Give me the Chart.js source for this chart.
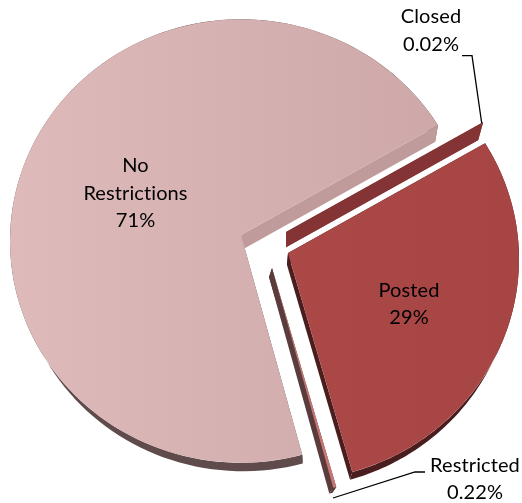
<!DOCTYPE html>
<html>
<head>
<meta charset="utf-8">
<style>html,body{margin:0;padding:0;background:#fff}canvas{display:block}#w{width:522px;height:503px;position:relative}</style>
<script src="https://cdn.jsdelivr.net/npm/chart.js@4"></script>
</head>
<body>
<div id="w"><canvas id="c" width="522" height="503"></canvas></div>
<script>
const categories = ['Closed', 'Posted', 'Restricted', 'No Restrictions'];
const values = [0.02, 29.24, 0.22, 70.52];
const percentLabels = ['0.02%', '29%', '0.22%', '71%'];

// Look of each slice (same order as categories)
const looks = [
  {shift:[45,-3], base:[0,15,.975], top:['#AB4746','#AB4746'], outer:'#843434', start:'#843434', end:'#843434'},
  {shift:[47,18], base:[-1,12,.98], top:['#B04C4A','#A64544'], outer:'#4A1E1E', start:'#4A1E1E', end:'#4A1E1E'},
  {shift:[31,33], base:[-3,9,.985], top:['#C77674','#C77674'], outer:'#5A3C3C', start:'#5A3C3C', end:'#5A3C3C'},
  {shift:[0,0],   base:[2,14,.975], top:['#DEBABA','#CDA7A7'], outer:'#5F4B4B', start:'#5F4B4B', end:'#BF9C9B'}
];
const SQUASH = 0.96, APEX_LIFT = -6;

function ell(el, a, k, b) {
  const rx = el.outerRadius, ry = rx * SQUASH;
  let x = el.x + rx * Math.cos(a), y = el.y + ry * Math.sin(a);
  if (k) { x = el.x + b[0] + b[2] * (x - el.x); y = el.y + b[1] + b[2] * (y - el.y); }
  return [x, y];
}
function apex(el, k, b) {
  let x = el.x, y = el.y + APEX_LIFT;
  if (k) { x = el.x + b[0]; y = el.y + b[1] + b[2] * APEX_LIFT; }
  return [x, y];
}
function poly(ctx, pts, color) {
  ctx.beginPath();
  pts.forEach((p, i) => i ? ctx.lineTo(p[0], p[1]) : ctx.moveTo(p[0], p[1]));
  ctx.closePath();
  ctx.fillStyle = color;
  ctx.fill();
}
function drawSlice(el, look, ctx) {
  const b = look.base, a0 = el.startAngle, a1 = el.endAngle, N = 120;
  const topArc = [], baseArc = [];
  for (let i = 0; i <= N; i++) {
    const a = a0 + (a1 - a0) * i / N;
    topArc.push(ell(el, a, false));
    baseArc.push(ell(el, a, true, b));
  }
  ctx.save();
  poly(ctx, topArc.concat(baseArc.slice().reverse()), look.outer);
  poly(ctx, [apex(el), topArc[0], baseArc[0], apex(el, true, b)], look.start);
  poly(ctx, [apex(el), topArc[N], baseArc[N], apex(el, true, b)], look.end);
  const g = ctx.createLinearGradient(el.x - el.outerRadius, 0, el.x + el.outerRadius, 0);
  g.addColorStop(0, look.top[0]);
  g.addColorStop(1, look.top[1]);
  ctx.beginPath();
  const A = apex(el);
  ctx.moveTo(A[0], A[1]);
  ctx.ellipse(el.x, el.y, el.outerRadius, el.outerRadius * SQUASH, 0, a0, a1);
  ctx.closePath();
  ctx.fillStyle = g;
  ctx.fill();
  ctx.restore();
}

const explode3D = {
  id: 'explode3D',
  afterDatasetUpdate(chart) {
    chart.getDatasetMeta(0).data.forEach((el, i) => {
      const area = chart.chartArea;
      el.x = (area.left + area.right) / 2 + looks[i].shift[0];
      el.y = (area.top + area.bottom) / 2 + looks[i].shift[1];
      el.draw = function (ctx) { drawSlice(this, looks[i], ctx); };
    });
  }
};

const textLines = [
  {x:135.5, y:166, t:'No'}, {x:135.5, y:194, t:'Restrictions'}, {x:135.5, y:221, t:percentLabels[3]},
  {x:409, y:291, t:categories[1]}, {x:409, y:318, t:percentLabels[1]},
  {x:431, y:17, t:categories[0]}, {x:431, y:45, t:percentLabels[0]},
  {x:475, y:466, t:categories[2]}, {x:475, y:493, t:percentLabels[2]}
];
const leaders = [
  [[462,55.7],[472,55.7],[481.7,123]],
  [[425,472],[415,472],[333,498]]
];
const annotate = {
  id: 'annotate',
  afterDatasetsDraw(chart) {
    const ctx = chart.ctx;
    ctx.save();
    ctx.strokeStyle = '#000';
    ctx.lineWidth = 1.3;
    leaders.forEach(l => {
      ctx.beginPath();
      l.forEach((p, i) => i ? ctx.lineTo(p[0], p[1]) : ctx.moveTo(p[0], p[1]));
      ctx.stroke();
    });
    ctx.fillStyle = '#000';
    ctx.font = '20px Lato';
    ctx.letterSpacing = '0.1px';
    ctx.textAlign = 'center';
    ctx.textBaseline = 'middle';
    textLines.forEach(l => ctx.fillText(l.t, l.x, l.y));
    ctx.restore();
  }
};

new Chart(document.getElementById('c'), {
  type: 'pie',
  data: {
    labels: categories,
    datasets: [{ data: values, backgroundColor: looks.map(l => l.top[0]), borderWidth: 0, radius: 231 }]
  },
  options: {
    responsive: false,
    animation: false,
    rotation: 58.5,
    layout: { padding: { left: 0, top: 0, right: 40, bottom: 21 } },
    plugins: { legend: { display: false }, tooltip: { enabled: false }, title: { display: false } }
  },
  plugins: [explode3D, annotate]
});
</script>
</body>
</html>
